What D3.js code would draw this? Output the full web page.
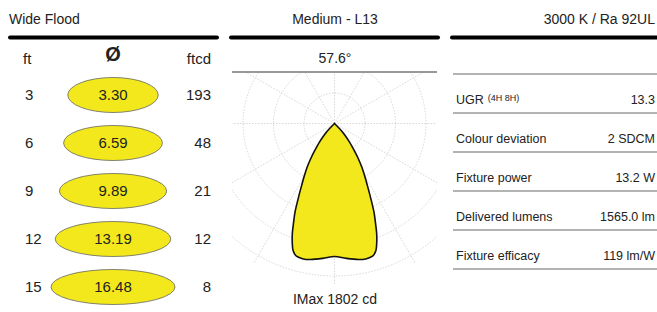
<!DOCTYPE html>
<html>
<head>
<meta charset="utf-8">
<script src="https://cdn.jsdelivr.net/npm/d3@7"></script>
<style>
  body { margin: 0; background: #fff; }
  svg { display: block; font-family: "Liberation Sans", Arial, sans-serif; }
</style>
</head>
<body>
<svg id="chart" width="657" height="312"></svg>
<script>
// header titles
const titles = ["Wide Flood", "Medium - L13", "3000 K / Ra 92UL"];

// left panel: distance (ft), beam diameter, illuminance (ftcd)
const distances = [3, 6, 9, 12, 15];
const diameters = [3.30, 6.59, 9.89, 13.19, 16.48];
const illuminance = [193, 48, 21, 12, 8];

// middle panel: polar intensity curve (angle from nadir, candela)
const beamAngle = "57.6°";
const iMax = 1802;
const polarAngles = [0, 5, 10, 13, 16, 18, 19.5, 21, 22.5, 24, 26, 28, 30, 32, 34, 36, 39, 42, 44, 46];
const candela = [1724, 1755, 1790, 1802, 1790, 1735, 1640, 1525, 1385, 1260, 1065, 905, 780, 670, 555, 440, 310, 195, 100, 0];

// right panel: specs
const specLabels = ["UGR", "Colour deviation", "Fixture power", "Delivered lumens", "Fixture efficacy"];
const specValues = ["13.3", "2 SDCM", "13.2 W", "1565.0 lm", "119 lm/W"];

const svg = d3.select("#chart");
const ink = "#222";
const yellow = "#f2e81c";

// ---- headers + thick rules
const headerX = [9, 335, 655];
const anchors = ["start", "middle", "end"];
svg.selectAll(".title")
  .data(titles)
  .enter().append("text")
  .attr("x", (d, i) => headerX[i])
  .attr("y", 24)
  .attr("text-anchor", (d, i) => anchors[i])
  .style("font-size", "14px")
  .style("fill", ink)
  .text(d => d);

const rules = [[10, 217], [231, 438], [452, 662]];
svg.selectAll(".rule")
  .data(rules)
  .enter().append("line")
  .attr("x1", d => d[0]).attr("x2", d => d[1])
  .attr("y1", 37.5).attr("y2", 37.5)
  .attr("stroke", "#000")
  .attr("stroke-width", 4)
  .attr("stroke-linecap", "round");

// ---- left panel
const y = d3.scalePoint().domain(distances).range([95, 287]);
const rx = d3.scaleLinear().domain([0, d3.max(diameters)]).range([41, 62]);

const left = svg.append("g");
left.append("text").attr("x", 23).attr("y", 64)
  .style("font-size", "15px").style("fill", ink).text("ft");
left.append("text").attr("x", 113).attr("y", 61).attr("text-anchor", "middle")
  .style("font-size", "20px").style("font-weight", "bold").style("fill", ink).text("Ø");
left.append("text").attr("x", 211).attr("y", 64).attr("text-anchor", "end")
  .style("font-size", "15px").style("fill", ink).text("ftcd");

const rows = left.selectAll(".row")
  .data(distances)
  .enter().append("g")
  .attr("transform", d => `translate(0,${y(d)})`);

rows.append("ellipse")
  .attr("cx", 113)
  .attr("rx", (d, i) => rx(diameters[i]))
  .attr("ry", 17.5)
  .attr("fill", yellow)
  .attr("stroke", "#666")
  .attr("stroke-width", 0.8);

rows.append("text")
  .attr("x", 25).attr("dy", "0.35em")
  .style("font-size", "15px").style("fill", ink)
  .text(d => d);

rows.append("text")
  .attr("x", 113).attr("dy", "0.35em")
  .attr("text-anchor", "middle")
  .style("font-size", "15px").style("fill", ink)
  .text((d, i) => d3.format(".2f")(diameters[i]));

rows.append("text")
  .attr("x", 211).attr("dy", "0.35em")
  .attr("text-anchor", "end")
  .style("font-size", "15px").style("fill", ink)
  .text((d, i) => illuminance[i]);

// ---- middle panel: polar diagram
const cx = 334.5, cy = 123.5;
const r = d3.scaleLinear().domain([0, iMax]).range([0, 139]);
const gridR = d3.scaleLinear().domain([0, 5]).range([0, 152.5]);

svg.append("text").attr("x", 335).attr("y", 63).attr("text-anchor", "middle")
  .style("font-size", "14px").style("fill", ink).text(beamAngle);

svg.append("clipPath").attr("id", "polarClip")
  .append("rect").attr("x", 232).attr("y", 72).attr("width", 205).attr("height", 220);

const polar = svg.append("g").attr("clip-path", "url(#polarClip)")
  .append("g").attr("transform", `translate(${cx},${cy})`);

polar.selectAll(".ring")
  .data(d3.range(1, 6))
  .enter().append("circle")
  .attr("r", d => gridR(d))
  .attr("fill", "none")
  .attr("stroke", "#cdcdcd")
  .attr("stroke-width", 0.8)
  .attr("stroke-dasharray", "1.5,1.5");

polar.selectAll(".spoke")
  .data(d3.range(0, 360, 30))
  .enter().append("line")
  .attr("x2", d => gridR(5.3) * Math.cos(d * Math.PI / 180))
  .attr("y2", d => gridR(5.3) * Math.sin(d * Math.PI / 180))
  .attr("stroke", "#cdcdcd")
  .attr("stroke-width", 0.8)
  .attr("stroke-dasharray", "1.5,1.5");

// mirror the half curve around nadir
const n = polarAngles.length;
const curve = d3.range(n - 1, -1, -1).map(i => ({ a: -polarAngles[i], c: candela[i] }))
  .concat(d3.range(1, n).map(i => ({ a: polarAngles[i], c: candela[i] })));

const radial = d3.lineRadial()
  .angle(d => Math.PI - d.a * Math.PI / 180)
  .radius(d => r(d.c))
  .curve(d3.curveCatmullRom);

polar.append("path")
  .attr("d", radial(curve) + "Z")
  .attr("fill", yellow)
  .attr("stroke", "#111")
  .attr("stroke-width", 1.6)
  .attr("stroke-linejoin", "miter");

svg.append("line")
  .attr("x1", 232).attr("x2", 437).attr("y1", 72).attr("y2", 72)
  .attr("stroke", "#777").attr("stroke-width", 1.3);

svg.append("text").attr("x", 335).attr("y", 304).attr("text-anchor", "middle")
  .style("font-size", "14px").style("fill", ink).text(`IMax ${iMax} cd`);

// ---- right panel: spec table
const ys = d3.scaleLinear().domain([0, 5]).range([74, 269]);

svg.selectAll(".specLine")
  .data(d3.range(0, 6))
  .enter().append("line")
  .attr("x1", 453).attr("x2", 660)
  .attr("y1", d => ys(d)).attr("y2", d => ys(d))
  .attr("stroke", "#9a9a9a")
  .attr("stroke-width", 1.4);

const spec = svg.selectAll(".spec")
  .data(specLabels)
  .enter().append("g")
  .attr("transform", (d, i) => `translate(0,${ys(i + 1) - 9.5})`);

const label = spec.append("text")
  .attr("x", 456)
  .style("font-size", "12.5px").style("fill", ink);
label.append("tspan").text(d => d);
label.filter(d => d === "UGR").append("tspan")
  .attr("dx", 4).attr("dy", -2.5)
  .style("font-size", "9px")
  .text("(4H 8H)");

spec.append("text")
  .attr("x", 655).attr("text-anchor", "end")
  .style("font-size", "12.5px").style("fill", ink)
  .text((d, i) => specValues[i]);
</script>
</body>
</html>
